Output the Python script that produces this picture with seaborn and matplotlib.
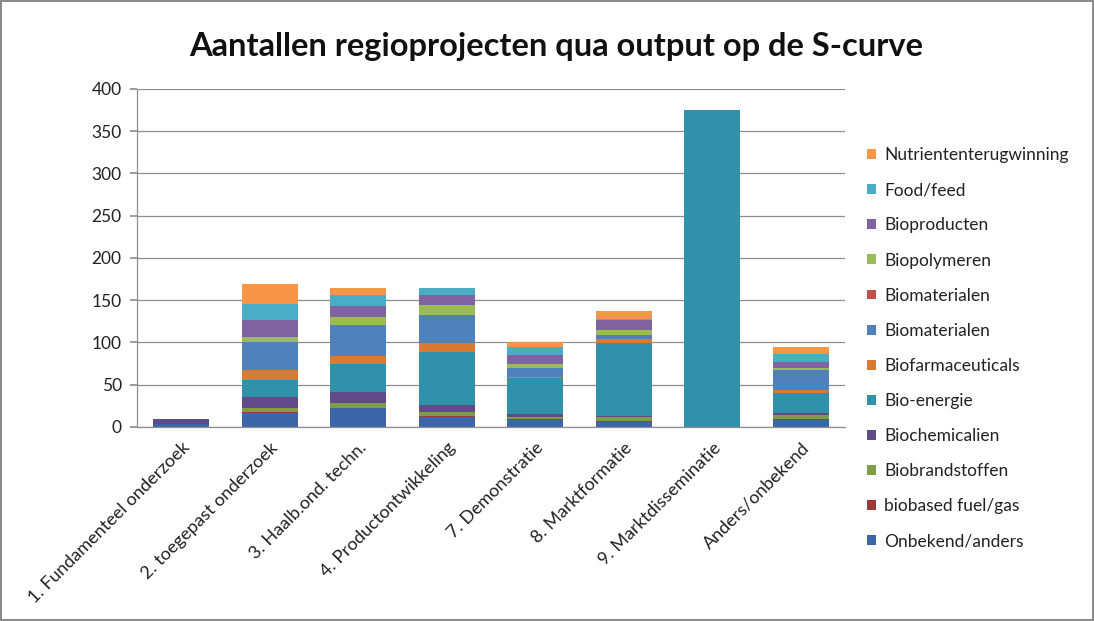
import matplotlib
matplotlib.use("Agg")
import matplotlib.pyplot as plt
import seaborn as sns
import pandas as pd
import numpy as np
from matplotlib.patches import Patch

categories = ["1. Fundamenteel onderzoek", "2. toegepast onderzoek", "3. Haalb.ond. techn.",
              "4. Productontwikkeling", "7. Demonstratie", "8. Marktformatie",
              "9. Marktdisseminatie", "Anders/onbekend"]

# series listed bottom -> top
onbekend_anders = [4, 17, 22, 12, 8, 6, 0, 8]
biobased_fuel_gas = [0, 1, 1, 1, 2, 1, 0, 1]
biobrandstoffen = [0, 5, 5, 5, 2, 5, 0, 5]
biochemicalien = [5, 13, 14, 8, 3, 1, 0, 2]
bio_energie = [0, 20, 32, 63, 43, 86, 375, 24]
biofarmaceuticals = [0, 12, 10, 10, 1, 5, 0, 4]
biomaterialen_1 = [0, 32, 37, 33, 11, 5, 0, 24]
biomaterialen_2 = [0, 0, 0, 0, 0, 0, 0, 0]
biopolymeren = [0, 7, 9, 12, 5, 6, 0, 2]
bioproducten = [0, 20, 13, 12, 10, 12, 0, 7]
food_feed = [0, 19, 13, 9, 10, 1, 0, 9]
nutrienten = [0, 23, 8, 0, 6, 9, 0, 9]

series_names = ["Onbekend/anders", "biobased fuel/gas", "Biobrandstoffen", "Biochemicalien",
                "Bio-energie", "Biofarmaceuticals", "Biomaterialen", "Biomaterialen ",
                "Biopolymeren", "Bioproducten", "Food/feed", "Nutriententerugwinning"]
series_values = [onbekend_anders, biobased_fuel_gas, biobrandstoffen, biochemicalien,
                 bio_energie, biofarmaceuticals, biomaterialen_1, biomaterialen_2,
                 biopolymeren, bioproducten, food_feed, nutrienten]
colors = ["#3D66A8", "#9E3B38", "#7F9D48", "#5F4B88", "#3190AA", "#DA7A32",
          "#4F81BD", "#C0504D", "#9BBB59", "#8064A2", "#4BACC6", "#F79646"]

sns.set_theme(style="white")
plt.rcParams["font.family"] = ["Lato", "DejaVu Sans"]

fig = plt.figure(figsize=(10.94, 6.21), dpi=100)
fig.patch.set_facecolor("white")
fig.patch.set_edgecolor("#8c8c8c")
fig.patch.set_linewidth(1.5)
ax = fig.add_axes([0.1252, 0.3124, 0.6472, 0.5443])

vals = np.array(series_values, dtype=float)
cum = np.cumsum(vals, axis=0)

for i in range(len(series_names) - 1, -1, -1):
    df = pd.DataFrame({"cat": categories, "val": cum[i]})
    sns.barplot(data=df, x="cat", y="val", color=colors[i], width=0.63,
                saturation=1, ax=ax, linewidth=0, order=categories)

ax.set_ylim(0, 400)
ax.set_xlim(-0.5, 7.5)
ax.set_yticks(np.arange(0, 401, 50))
ax.yaxis.grid(True, color="#8f8f8f", linewidth=0.9)
ax.set_axisbelow(True)
for s in ["top", "right"]:
    ax.spines[s].set_visible(False)
for s in ["left", "bottom"]:
    ax.spines[s].set_color("#8f8f8f")
    ax.spines[s].set_linewidth(0.9)
ax.set_xlabel("")
ax.set_ylabel("")
ax.tick_params(axis="y", labelsize=12.5, labelcolor="#222222", left=True, length=5,
               color="#8f8f8f", pad=6)
ax.tick_params(axis="x", labelsize=13, labelcolor="#222222", bottom=False, pad=3)
plt.setp(ax.get_xticklabels(), rotation=45, ha="right", rotation_mode="anchor")

fig.text(0.508, 0.925, "Aantallen regioprojecten qua output op de S-curve",
         ha="center", va="center", fontsize=23.5, fontweight="bold", color="#111111")

handles = [Patch(facecolor=colors[i], edgecolor="none", label=series_names[i].strip())
           for i in range(len(series_names) - 1, -1, -1)]
leg = fig.legend(handles=handles, loc="upper left", bbox_to_anchor=(0.786, 0.774),
                 frameon=False, fontsize=12.5, labelspacing=1.1, handlelength=0.5,
                 handleheight=0.5, handletextpad=0.5, borderaxespad=0)
for t in leg.get_texts():
    t.set_color("#222222")

fig.savefig("out.png", dpi=100, facecolor=fig.get_facecolor(), edgecolor=fig.get_edgecolor())
